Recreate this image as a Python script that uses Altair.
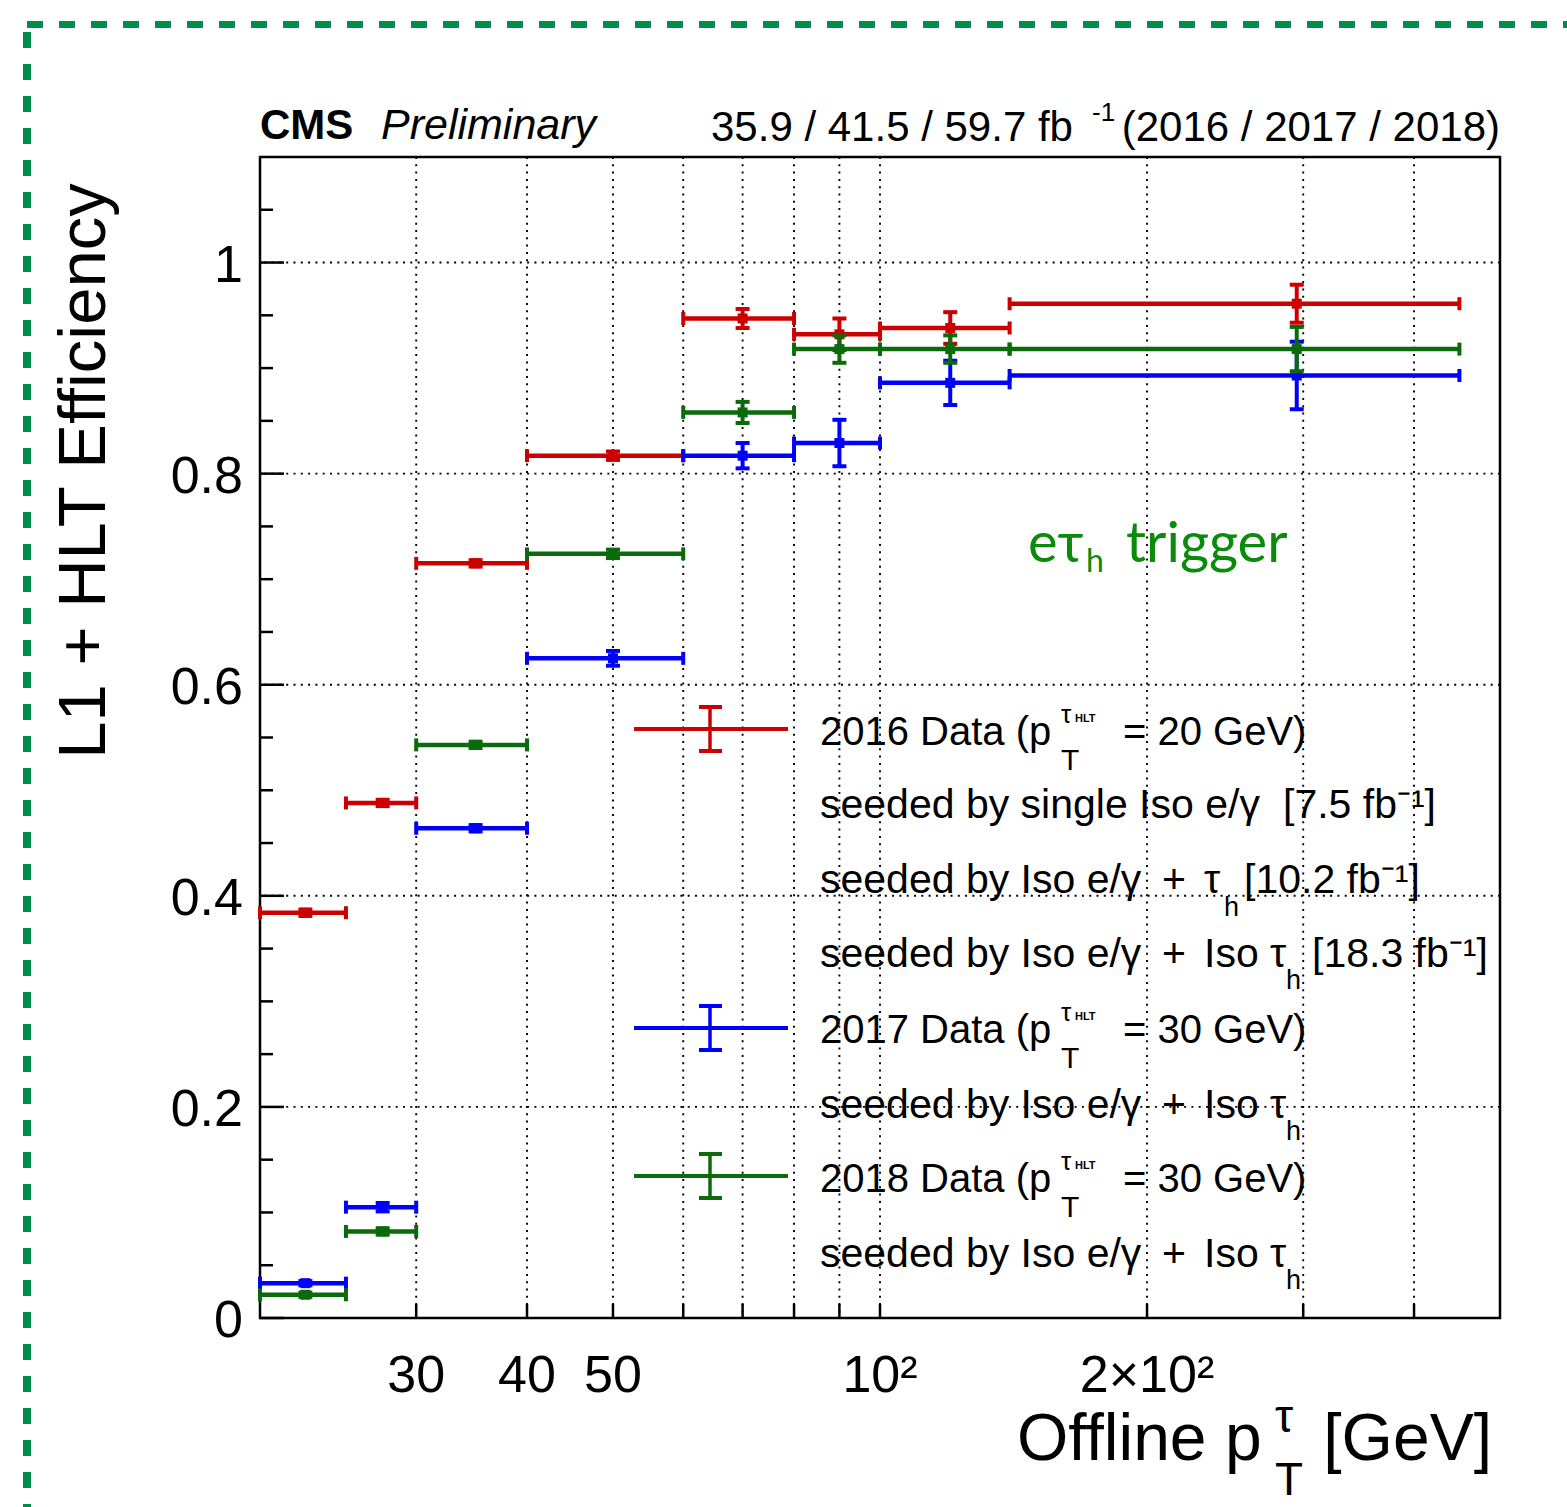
import altair as alt
import pandas as pd

# ------------------------------------------------------------------ data
bin_lo = [20, 25, 30, 40, 60, 80, 100, 140]
bin_hi = [25, 30, 40, 60, 80, 100, 140, 450]

eff_2016 = [0.384, 0.488, 0.715, 0.817, 0.947, 0.932, 0.938, 0.961]
err_2016 = [0.003, 0.003, 0.003, 0.004, 0.009, 0.015, 0.015, 0.018]
eff_2017 = [0.033, 0.105, 0.464, 0.625, 0.817, 0.829, 0.886, 0.893]
err_2017 = [0.002, 0.004, 0.003, 0.007, 0.012, 0.022, 0.021, 0.032]
eff_2018 = [0.022, 0.082, 0.543, 0.724, 0.858, 0.918, 0.918, 0.918]
err_2018 = [0.002, 0.003, 0.003, 0.004, 0.010, 0.013, 0.013, 0.021]

series_colors = ["#cc0000", "#0000ff", "#0b6b0b"]

x_grid = [30, 40, 50, 60, 70, 80, 90, 100, 200, 300, 400]
x_label_values = [30, 40, 50, 100, 200]
x_label_texts = ["30", "40", "50", "10²", "2×10²"]
y_grid = [0.2, 0.4, 0.6, 0.8, 1.0]
y_major = [0.0, 0.2, 0.4, 0.6, 0.8, 1.0]
y_label_texts = ["0", "0.2", "0.4", "0.6", "0.8", "1"]
y_minor = [0.05, 0.1, 0.15, 0.25, 0.3, 0.35, 0.45, 0.5, 0.55, 0.65, 0.7,
           0.75, 0.85, 0.9, 0.95, 1.05]

legend_heads = ["2016 Data (p", "2017 Data (p", "2018 Data (p"]
legend_tails = ["= 20 GeV)", "= 30 GeV)", "= 30 GeV)"]
seed_main = "seeded by Iso e/γ"
seed_single = "seeded by single Iso e/γ"
lumi_texts = ["[7.5 fb⁻¹]", "[10.2 fb⁻¹]", "[18.3 fb⁻¹]"]

FONT = "Liberation Sans, Arial, Helvetica, sans-serif"
OX, OY = 260, 157          # plot-area origin on the page
W, H = 1240, 1161          # plot-area size

xs = alt.Scale(type="log", domain=[20, 500], nice=False)
ys = alt.Scale(domain=[0, 1.1], nice=False, zero=False)
one = pd.DataFrame({"k": [0]})


def X(f):
    return alt.X(f, type="quantitative", scale=xs, axis=None)


def Y(f):
    return alt.Y(f, type="quantitative", scale=ys, axis=None)


def T(s, px, py, size, align="left", color="black", font=FONT,
      weight=None, style=None, angle=None):
    kw = dict(text=s, fontSize=size, align=align, baseline="alphabetic",
              color=color, font=font)
    if weight:
        kw["fontWeight"] = weight
    if style:
        kw["fontStyle"] = style
    if angle is not None:
        kw["angle"] = angle
    return alt.Chart(one).mark_text(**kw).encode(
        x=alt.value(px - OX), y=alt.value(py - OY))


layers = []

# ------------------------------------------------------------- grid
grid_style = dict(strokeDash=[2, 5.3], strokeWidth=1.9, color="black")
layers.append(alt.Chart(pd.DataFrame({"v": x_grid})).mark_rule(**grid_style)
              .encode(x=X("v")))
layers.append(alt.Chart(pd.DataFrame({"v": y_grid})).mark_rule(**grid_style)
              .encode(y=Y("v")))

# inward axis ticks
layers.append(alt.Chart(pd.DataFrame({"v": y_major})).mark_rule(color="black", strokeWidth=2.5)
              .encode(y=Y("v"), x=alt.value(0), x2=alt.value(24)))
layers.append(alt.Chart(pd.DataFrame({"v": y_minor})).mark_rule(color="black", strokeWidth=2.5)
              .encode(y=Y("v"), x=alt.value(0), x2=alt.value(13)))
layers.append(alt.Chart(pd.DataFrame({"v": x_grid})).mark_rule(color="black", strokeWidth=2.5)
              .encode(x=X("v"), y=alt.value(H), y2=alt.value(H - 14)))

# tick labels (placed through the scales)
layers.append(alt.Chart(pd.DataFrame({"v": x_label_values, "t": x_label_texts}))
              .mark_text(fontSize=52, font=FONT, align="center", baseline="alphabetic", color="black")
              .encode(x=X("v"), y=alt.value(1392 - OY), text="t:N"))
layers.append(alt.Chart(pd.DataFrame({"v": y_major, "t": y_label_texts}))
              .mark_text(fontSize=52, font=FONT, align="right", baseline="middle", color="black", dy=3)
              .encode(y=Y("v"), x=alt.value(243 - OX), text="t:N"))


# ------------------------------------------------------------- data series
def series(eff, err, color):
    df = pd.DataFrame({"lo": bin_lo, "hi": bin_hi, "eff": eff, "err": err})
    df["ctr"] = (df["lo"] + df["hi"]) / 2
    df["ymin"] = df["eff"] - df["err"]
    df["ymax"] = df["eff"] + df["err"]
    b = alt.Chart(df)
    out = [
        b.mark_rule(color=color, strokeWidth=4.5).encode(x=X("lo"), x2="hi", y=Y("eff")),
        b.mark_tick(color=color, orient="vertical", size=13, thickness=4, opacity=1)
         .encode(x=X("lo"), y=Y("eff")),
        b.mark_tick(color=color, orient="vertical", size=13, thickness=4, opacity=1)
         .encode(x=X("hi"), y=Y("eff")),
        b.mark_rule(color=color, strokeWidth=4).encode(x=X("ctr"), y=Y("ymin"), y2="ymax"),
        b.mark_tick(color=color, orient="horizontal", size=14, thickness=4, opacity=1)
         .encode(x=X("ctr"), y=Y("ymin")),
        b.mark_tick(color=color, orient="horizontal", size=14, thickness=4, opacity=1)
         .encode(x=X("ctr"), y=Y("ymax")),
        b.mark_square(color=color, size=100, opacity=1, filled=True)
         .encode(x=X("ctr"), y=Y("eff")),
    ]
    return out


layers += series(eff_2016, err_2016, series_colors[0])
layers += series(eff_2017, err_2017, series_colors[1])
layers += series(eff_2018, err_2018, series_colors[2])

# ------------------------------------------------------------- legend
sym_centers = [729, 1028, 1176]
head_baselines = [745, 1043, 1192]
for c, col in zip(sym_centers, series_colors):
    layers.append(alt.Chart(one).mark_rule(color=col, strokeWidth=4)
                  .encode(x=alt.value(634 - OX), x2=alt.value(788 - OX), y=alt.value(c - OY)))
    layers.append(alt.Chart(one).mark_rule(color=col, strokeWidth=3.5)
                  .encode(x=alt.value(710 - OX), y=alt.value(c - 22 - OY), y2=alt.value(c + 22 - OY)))
    for d in (-22, 22):
        layers.append(alt.Chart(one).mark_rule(color=col, strokeWidth=4)
                      .encode(x=alt.value(699 - OX), x2=alt.value(722 - OX), y=alt.value(c + d - OY)))

HF = 40   # legend header font
SF = 41   # legend "seeded by" font
for head, tail, b in zip(legend_heads, legend_tails, head_baselines):
    layers += [
        T(head, 820, b, HF),
        T("τ", 1061, b - 22, 26),
        T("HLT", 1075, b - 23, 11, weight="bold"),
        T("T", 1061, b + 25, 30),
        T(tail, 1123, b, HF),
    ]

# seeded lines
layers += [T(seed_single, 820, 818, SF), T(lumi_texts[0], 1283, 818, SF)]
layers += [T(seed_main, 820, 893, SF), T("+", 1162, 893, SF), T("τ", 1204, 893, SF),
           T("h", 1224, 916, 27), T(lumi_texts[1], 1244, 893, SF)]
for b, extra in ((967, lumi_texts[2]), (1118, None), (1267, None)):
    layers += [T(seed_main, 820, b, SF), T("+", 1162, b, SF), T("Iso τ", 1204, b, SF),
               T("h", 1286, b + 22, 27)]
    if extra:
        layers.append(T(extra, 1312, b, SF))

# ------------------------------------------------------------- titles
layers += [
    T("CMS", 260, 139, 42, weight="bold"),
    T("Preliminary", 381, 139, 43, style="italic"),
    T("35.9 / 41.5 / 59.7 fb", 711, 141, 42),
    T("-1", 1092, 121, 26),
    T("(2016 / 2017 / 2018)", 1500, 141, 42, align="right"),
    T("L1 + HLT Efficiency", 105, 471, 67, align="center", angle=270),
    T("Offline p", 1017, 1460, 66),
    T("τ", 1275, 1432, 46),
    T("T", 1275, 1495, 46),
    T("[GeV]", 1492, 1460, 66, align="right"),
]

# annotation
GREEN_TXT = "#0a8c0a"
ANN_FONT = "Lato, Open Sans, sans-serif"
layers += [
    T("eτ", 1028, 562, 56, color=GREEN_TXT, font=ANN_FONT),
    T("h", 1086, 572, 32, color=GREEN_TXT, font=ANN_FONT),
    T("trigger", 1126, 562, 56, color=GREEN_TXT, font=ANN_FONT),
]

# dashed green frame of the slide
BORDER = "#008c4b"
layers.append(alt.Chart(one).mark_rule(color=BORDER, strokeWidth=7, strokeDash=[16, 16], strokeCap="butt")
              .encode(x=alt.value(27 - OX), x2=alt.value(1600 - OX), y=alt.value(24.5 - OY)))
layers.append(alt.Chart(one).mark_rule(color=BORDER, strokeWidth=8, strokeDash=[16, 16], strokeCap="butt")
              .encode(x=alt.value(27 - OX), y=alt.value(32 - OY), y2=alt.value(1540 - OY)))

chart = (
    alt.layer(*layers)
    .properties(width=W, height=H,
                autosize=alt.AutoSizeParams(type="none"),
                padding={"left": OX, "top": OY, "right": 1567 - OX - W, "bottom": 1507 - OY - H},
                background="white")
    .configure_view(stroke="black", strokeWidth=2.5)
)

chart.save("out.html", embed_options={"renderer": "svg", "actions": False})
